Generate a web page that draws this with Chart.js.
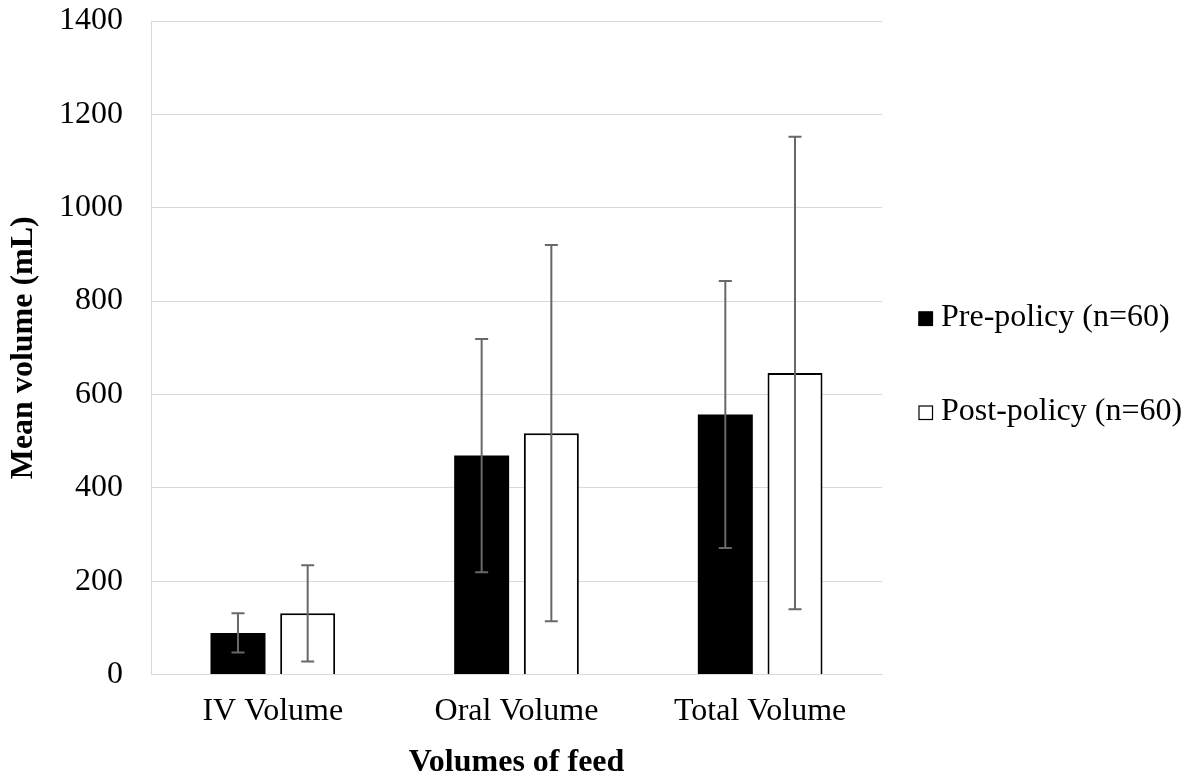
<!DOCTYPE html>
<html>
<head>
<meta charset="utf-8">
<script src="https://cdn.jsdelivr.net/npm/chart.js@4.4.1/dist/chart.umd.min.js"></script>
<style>
  html, body { margin: 0; padding: 0; background: #ffffff; }
  #wrap { width: 1197px; height: 780px; }
</style>
</head>
<body>
<div id="wrap"><canvas id="c" width="1197" height="780"></canvas></div>
<script>
// ---- data ----
const categories = ["IV Volume", "Oral Volume", "Total Volume"];
const seriesNames = ["Pre-policy (n=60)", "Post-policy (n=60)"];
const preMean = [89, 469, 557];
const preSD = [42, 250, 286];
const postMean = [131, 517, 646];
const postSD = [103, 403, 506];
const yTicks = [0, 200, 400, 600, 800, 1000, 1200, 1400];
const yTickLabels = ["0", "200", "400", "600", "800", "1000", "1200", "1400"];
const yTitle = "Mean volume (mL)";
const xTitle = "Volumes of feed";

const FONT = "'Liberation Serif', 'Times New Roman', Times, serif";
Chart.defaults.font.family = FONT;
Chart.defaults.font.size = 32;
Chart.defaults.color = '#000000';

const errorBars = {
  id: 'errorBars',
  afterDatasetsDraw(chart) {
    const ctx = chart.ctx;
    const y = chart.scales.y;
    ctx.save();
    ctx.strokeStyle = '#686868';
    ctx.lineWidth = 2;
    chart.data.datasets.forEach((ds, di) => {
      const meta = chart.getDatasetMeta(di);
      meta.data.forEach((bar, i) => {
        const m = ds.data[i], s = ds.sd[i];
        const yHi = y.getPixelForValue(m + s);
        const yLo = y.getPixelForValue(m - s);
        const x = bar.x;
        const cap = 6.5;
        ctx.beginPath();
        ctx.moveTo(x, yHi); ctx.lineTo(x, yLo);
        ctx.moveTo(x - cap, yHi); ctx.lineTo(x + cap, yHi);
        ctx.moveTo(x - cap, yLo); ctx.lineTo(x + cap, yLo);
        ctx.stroke();
      });
    });
    ctx.restore();
  }
};

const customLegend = {
  id: 'customLegend',
  afterDraw(chart) {
    const ctx = chart.ctx;
    ctx.save();
    ctx.font = '32px ' + FONT;
    ctx.textBaseline = 'alphabetic';
    ctx.textAlign = 'left';
    chart.data.datasets.forEach((ds, i) => {
      const base = 326 + i * 94;
      const bx = 918.5, bs = 14.5;
      ctx.fillStyle = ds.backgroundColor;
      ctx.fillRect(bx, base - bs, bs, bs);
      ctx.strokeStyle = '#000000';
      ctx.lineWidth = 1.2;
      ctx.strokeRect(bx + 0.5, base - bs + 0.5, bs - 1, bs - 1);
      ctx.fillStyle = '#000000';
      ctx.fillText(ds.label, 941, base);
    });
    ctx.restore();
  }
};

new Chart(document.getElementById('c'), {
  type: 'bar',
  data: {
    labels: categories,
    datasets: [
      { label: seriesNames[0], data: preMean, sd: preSD,
        backgroundColor: '#000000', borderColor: '#000000', borderWidth: 0 },
      { label: seriesNames[1], data: postMean, sd: postSD,
        backgroundColor: '#ffffff', borderColor: '#000000', borderWidth: 2 }
    ]
  },
  options: {
    responsive: false,
    devicePixelRatio: 1,
    animation: false,
    layout: { padding: { left: 0, right: 315, top: 21, bottom: 0 } },
    datasets: { bar: { categoryPercentage: 0.572, barPercentage: 0.789 } },
    plugins: { legend: { display: false }, tooltip: { enabled: false } },
    scales: {
      x: {
        grid: { display: false, drawTicks: false },
        border: { display: true, color: '#d9d9d9', width: 1 },
        ticks: { padding: 18, font: { size: 32, lineHeight: 1.2 }, color: '#000' },
        title: { display: true, text: xTitle, font: { size: 32, weight: 'bold', lineHeight: 1.1 },
                 padding: { top: 0, bottom: 0 }, color: '#000' },
        afterFit(scale) { scale.height = 105.5; }
      },
      y: {
        min: 0, max: 1400,
        afterBuildTicks(scale) { scale.ticks = yTicks.map(v => ({ value: v })); },
        grid: { color: '#d9d9d9', lineWidth: 1, drawTicks: true, tickLength: 28, tickColor: 'rgba(0,0,0,0)' },
        border: { display: true, color: '#d9d9d9', width: 1 },
        ticks: { padding: 0, font: { size: 32, lineHeight: 1.2 }, color: '#000',
                 callback: (v) => yTickLabels[yTicks.indexOf(v)] },
        title: { display: true, text: yTitle, font: { size: 32, weight: 'bold', lineHeight: 1.2 },
                 padding: { top: 5, bottom: 0 }, color: '#000' },
        afterFit(scale) { scale.width = 151; }
      }
    }
  },
  plugins: [errorBars, customLegend]
});
</script>
</body>
</html>
